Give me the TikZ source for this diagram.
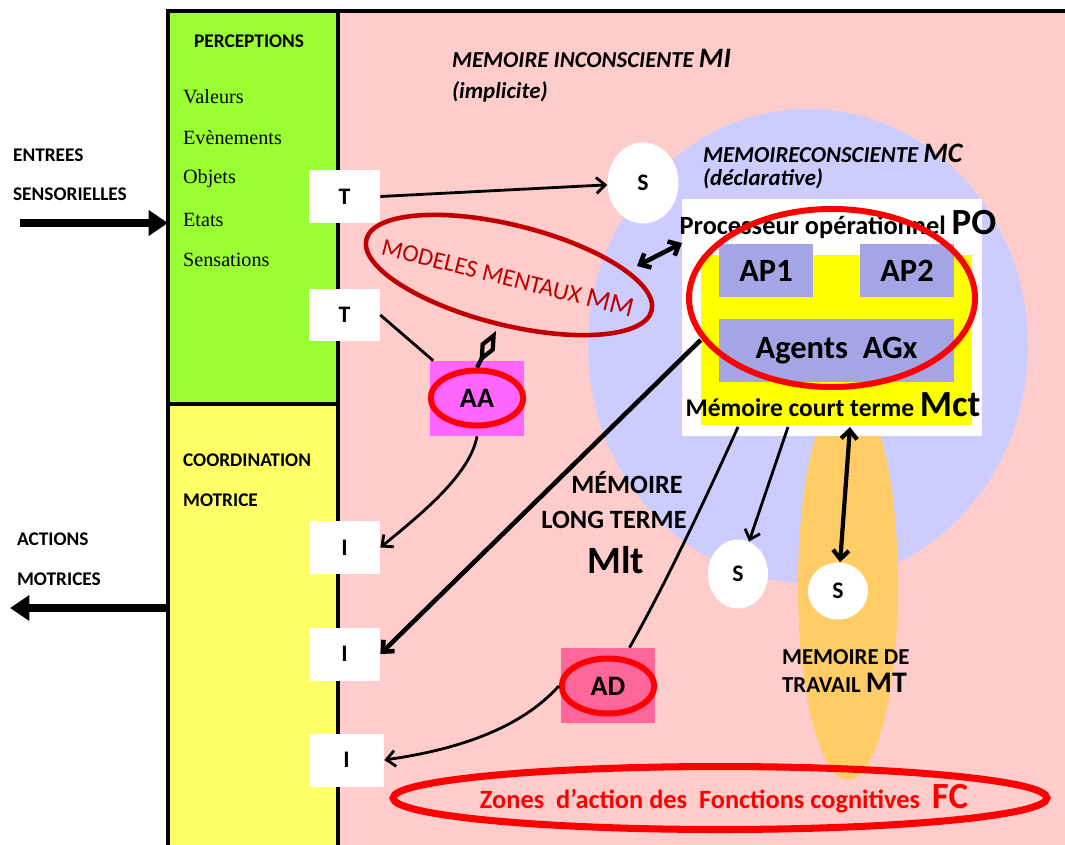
\documentclass[tikz,border=0pt]{standalone}
\usepackage{fontspec}
\setmainfont{Carlito}
\newfontfamily\tnrfont{Liberation Serif}
\usetikzlibrary{arrows.meta,shapes.geometric}
\definecolor{rose}{HTML}{FFCCCC}
\definecolor{vertp}{HTML}{99FF33}
\definecolor{jaunep}{HTML}{FFFF66}
\definecolor{jaunev}{HTML}{FFFF00}
\definecolor{bleup}{HTML}{CCCCFF}
\definecolor{bleuap}{HTML}{A5A5E6}
\definecolor{orangep}{HTML}{FFCC66}
\definecolor{magentap}{HTML}{FF66FF}
\definecolor{rosead}{HTML}{FF6699}
\definecolor{rouge}{HTML}{FF0000}
\definecolor{rougef}{HTML}{C00000}
\newcommand{\fs}[1]{\fontsize{#1}{#1}\selectfont}

\begin{document}
\begin{tikzpicture}[x=0.02cm,y=-0.02cm,every node/.style={inner sep=1pt},
      >={Straight Barb[length=5pt,width=9pt]},
      lettre/.style={font=\bfseries\fs{13.5}},
      boite/.style={lettre,fill=white,minimum width=1.42cm,minimum height=1.06cm},
      disque/.style={lettre,fill=white,ellipse,inner sep=0pt},
      agent/.style={fill=bleuap,inner sep=0pt,font=\bfseries\fs{18.5}},
      cercle/.style={draw=rouge,line width=3.4pt,ellipse,inner sep=0pt,
        minimum width=1.85cm,minimum height=1.1cm,font=\bfseries\fs{16}},
      titre/.style={font=\bfseries\fs{11},anchor=west},
      liste/.style={font=\tnrfont\fs{11.5},anchor=west},
      memoire/.style={anchor=west,font=\bfseries\itshape\fs{13}},
      fleche/.style={->,line width=1.6pt},
      grosse/.style={line width=4pt,-{Triangle[length=11pt,width=14pt]}}]
  \useasboundingbox (0,0) rectangle (1065,845);
  % fond et colonnes
  \fill[rose] (168,11) rectangle (1065,845);
  \fill[vertp] (168,11) rectangle (338,404);
  \fill[jaunep] (168,404) rectangle (338,845);
  \draw[line width=2.2pt] (1065,11)--(168,11)--(168,845) (338,11)--(338,845)
     (168,404)--(338,404);
  \fill[bleup] (808,346) ellipse [x radius=220,y radius=237];
  \fill[orangep] (848,585) ellipse [x radius=50,y radius=195];

  % colonne de gauche
  \node[titre] at (192,41) {PERCEPTIONS};
  \node[liste] at (181,97) {Valeurs};
  \node[liste] at (181,138) {Evènements};
  \node[liste] at (181,179) {Objets};
  \node[liste] at (181,220) {Etats};
  \node[liste] at (181,260) {Sensations};
  \node[titre] at (181,460) {COORDINATION};
  \node[titre] at (181,500) {MOTRICE};
  \node[titre] at (11,155) {ENTREES};
  \node[titre] at (11,194) {SENSORIELLES};
  \node[titre] at (15,539) {ACTIONS};
  \node[titre] at (15,579) {MOTRICES};
  \coordinate (entree) at (20,223);
  \coordinate (sortie) at (10,608);
  \draw[grosse] (entree)--(168,223);
  \draw[grosse] (168,608)--(sortie);

  \node[boite] (t1) at (344.5,196.5) {T};
  \node[boite] (t2) at (344.5,315) {T};
  \node[boite] (i1) at (344.5,547.5) {I};
  \node[boite] (i2) at (344.5,654) {I};
  \node[boite,minimum width=1.5cm] (i3) at (346.5,760) {I};

  % memoires
  \node[memoire] at (450,58) {MEMOIRE INCONSCIENTE {\fs{16}MI}};
  \node[memoire] at (450,92) {(implicite)};
  \node[memoire] at (701,153) {MEMOIRECONSCIENTE {\fs{16}MC}};
  \node[memoire] at (701,179) {(déclarative)};

  % processeur operationnel
  \node[fill=white,minimum width=6cm,minimum height=4.74cm,inner sep=0pt] (po)
     at (832,317.5) {};
  \node[fill=jaunev,minimum width=5.42cm,minimum height=3.4cm,inner sep=0pt] (mct)
     at (836.5,340) {};
  \node[agent,minimum width=1.88cm,minimum height=1.06cm] (ap1) at (766,270.5) {AP1};
  \node[agent,minimum width=1.88cm,minimum height=1.06cm] (ap2) at (907,270.5) {AP2};
  \node[agent,minimum width=4.7cm,minimum height=1.26cm] (agx) at (836.5,350.5)
     {Agents~~AGx};
  \node[font=\bfseries\fs{15}] at (838,224) {Processeur opérationnel {\fs{21}PO}};
  \node[font=\bfseries\fs{14.5}] at (833,405) {Mémoire court terme {\fs{21}Mct}};
  \draw[rouge,line width=3.4pt] (832,298) ellipse [x radius=143,y radius=89];

  \node[disque,minimum width=1.42cm,minimum height=1.62cm] (s1) at (643,183) {S};
  \node[disque,minimum width=1.2cm,minimum height=1.38cm] (s2) at (738,574) {S};
  \node[disque,minimum width=1.2cm,minimum height=1.14cm] (s3) at (838,591) {S};

  \node[font=\bfseries\fs{15}] at (627,483) {MÉMOIRE};
  \node[font=\bfseries\fs{15}] at (614,520) {LONG TERME};
  \node[font=\bfseries\fs{22}] at (616,560) {Mlt};
  \node[font=\bfseries\fs{13},anchor=west,align=left] at (780,671)
     {MEMOIRE DE\\[3pt]TRAVAIL {\fs{17}MT}};

  % modeles mentaux, AA, AD
  \node[draw=rougef,line width=2.6pt,ellipse,minimum width=5.88cm,minimum height=2cm,
     inner sep=0pt,rotate=-14] (mm) at (509,275) {};
  \node[rotate=-14,text=rougef,font=\fs{14}] (mmtexte) at (508,277)
     {MODELES MENTAUX {\fs{16}MM}};
  \node[fill=magentap,minimum width=1.88cm,minimum height=1.5cm] (aabox) at (477,398.5) {};
  \node[fill=rosead,minimum width=1.88cm,minimum height=1.5cm] (adbox) at (608,685.5) {};
  \node[draw=rouge,line width=4pt,ellipse,minimum width=13.08cm,
     minimum height=1.26cm,inner sep=0pt] (fc) at (720,798) {};
  \node[text=rouge,font=\bfseries\fs{15}] (fctexte) at (724,799)
     {Zones~~d’action des~~Fonctions cognitives~~{\fs{21}FC}};

  % liaisons
  \coordinate (mmpied) at (496,331);
  \coordinate (mmbord) at (637,266);
  \coordinate (poentree) at (682,243);
  \coordinate (mct1) at (738,427);
  \coordinate (mct2) at (788,427);
  \coordinate (mct3) at (850,427);
  \draw[fleche] (t1.east)--(s1);
  \draw[line width=1.6pt] (t2.east)--(aabox);
  \draw[<->,line width=2.6pt] (mmbord)--(poentree);
  \draw[fleche] (mct2)--(s2);
  \draw[<->,line width=2.4pt] (mct3)--(s3);
  \draw[->,line width=2.6pt] (mct.west)--(i2.east);
  \draw[line width=1.6pt] (mct1) .. controls (705,500) and (665,585) .. (adbox);
  \node[cercle] (aa) at (477,398) {AA};
  \node[cercle] (ad) at (608,686) {AD};
  \draw[line width=2.4pt,-{Diamond[open,length=0.72cm,width=0.32cm]}] (aa.north)--(mmpied);
  \draw[fleche] (aabox.south) .. controls (470,475) and (420,515) .. (i1.east);
  \draw[fleche] (ad.west) .. controls (515,735) and (440,752) .. (i3.east);
\end{tikzpicture}
\end{document}
